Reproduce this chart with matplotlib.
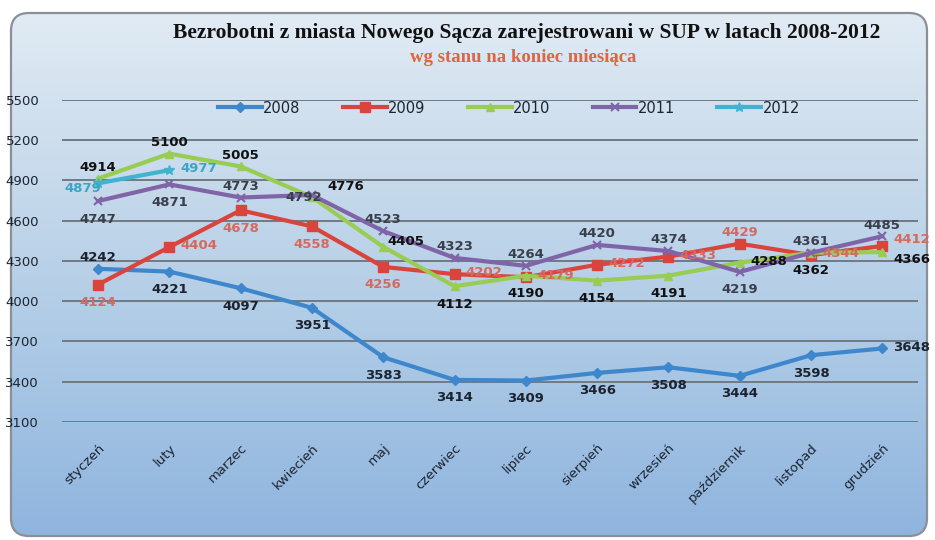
import numpy as np
import matplotlib
matplotlib.use("Agg")
import matplotlib.pyplot as plt
from matplotlib.patches import FancyBboxPatch
from matplotlib.colors import LinearSegmentedColormap

# ---------------- data ----------------
months = ["styczeń", "luty", "marzec", "kwiecień", "maj", "czerwiec", "lipiec",
          "sierpień", "wrzesień", "październik", "listopad", "grudzień"]
y2008 = [4242, 4221, 4097, 3951, 3583, 3414, 3409, 3466, 3508, 3444, 3598, 3648]
y2009 = [4124, 4404, 4678, 4558, 4256, 4202, 4179, 4272, 4333, 4429, 4344, 4412]
y2010 = [4914, 5100, 5005, 4776, 4405, 4112, 4190, 4154, 4191, 4288, 4362, 4366]
y2011 = [4747, 4871, 4773, 4792, 4523, 4323, 4264, 4420, 4374, 4219, 4361, 4485]
y2012 = [4879, 4977]
years = ["2008", "2009", "2010", "2011", "2012"]
yticks = [3100, 3400, 3700, 4000, 4300, 4600, 4900, 5200, 5500]

title = "Bezrobotni z miasta Nowego Sącza zarejestrowani w SUP w latach 2008-2012"
subtitle = "wg stanu na koniec miesiąca"

# ---------------- styles ----------------
series = [y2008, y2009, y2010, y2011, y2012]
line_colors = ["#3f87cc", "#d9443c", "#98cc52", "#8064a8", "#3fb3cf"]
label_colors = ["#1c2330", "#d46a5e", "#111111", "#3a3f4c", "#3aa6c4"]
markers = ["D", "s", "^", "x", "*"]
msizes = [5, 6.5, 6, 6, 7]
# label placement per point
place = [
    "abbbbbbbbbbr",
    "brbbbrrrrarR",
    "aaaqpbbbbrbS",
    "bbacaaaaabaa",
    "lr",
]
offs = {"a": (0, 8, "center"), "b": (0, -13, "center"),
        "r": (8, 1, "left"), "l": (2, -4, "right"), "c": (-6, -2, "center"),
        "q": (11, 8, "left"), "p": (3, 4, "left"),
        "R": (8, 5, "left"), "S": (8, -5, "left")}

W, H = 935, 540
fig = plt.figure(figsize=(W / 100, H / 100), dpi=100)
fig.patch.set_facecolor("white")

# background panel with gradient and rounded frame
bg = fig.add_axes([0, 0, 1, 1])
bg.set_xlim(0, W)
bg.set_ylim(H, 0)
bg.axis("off")
cmap = LinearSegmentedColormap.from_list("bg", ["#e1ebf4", "#c6d9eb", "#aac8e5", "#8fb4de"])
grad = np.linspace(0, 1, 256).reshape(-1, 1)
im = bg.imshow(grad, extent=[10, 928, 537, 12], aspect="auto", cmap=cmap, zorder=0)
frame = FancyBboxPatch((11, 13), 916, 523, boxstyle="round,pad=0,rounding_size=18",
                       facecolor="none", edgecolor="#8a9097", linewidth=1.6, zorder=2)
bg.add_patch(frame)
im.set_clip_path(frame)

bg.text(527, 33, title, ha="center", va="center", fontsize=15.5, fontweight="bold",
        family="Liberation Serif", color="#111111")
bg.text(523, 58, subtitle, ha="center", va="center", fontsize=13.5, fontweight="bold",
        family="Liberation Serif", color="#e0643c")

# ---------------- chart ----------------
ax = fig.add_axes([62.4 / W, 1 - 422 / H, 855.6 / W, 322 / H])
ax.patch.set_alpha(0)
for s in ax.spines.values():
    s.set_visible(False)

x_all = np.arange(len(months))
handles = []
for i, ys in enumerate(series):
    xs = x_all[:len(ys)]
    h, = ax.plot(xs, ys, color=line_colors[i], linewidth=3, marker=markers[i],
                 markersize=msizes[i], markeredgewidth=1.5 if markers[i] == "x" else 1,
                 markeredgecolor=line_colors[i], label=years[i], zorder=3 + i * 0.1)
    handles.append(h)
    for j, (xv, yv) in enumerate(zip(xs, ys)):
        dx, dy, ha = offs[place[i][j]]
        ax.annotate(str(yv), (xv, yv), xytext=(dx, dy), textcoords="offset points",
                    ha=ha, va="center", fontsize=9.5, fontweight="bold",
                    color=label_colors[i], zorder=6)

ax.set_xlim(-0.5, 11.5)
ax.set_ylim(3100, 5500)
ax.set_yticks(yticks)
ax.set_yticklabels([str(v) for v in yticks])
ax.grid(axis="y", color="#707a84", linewidth=1.4)
ax.set_axisbelow(True)
ax.tick_params(axis="y", length=0, pad=41, labelsize=9.5, labelcolor="#1c2330")
for lab in ax.get_yticklabels():
    lab.set_ha("left")
ax.set_xticks(x_all)
ax.set_xticklabels(months, rotation=45, ha="right", rotation_mode="anchor",
                   fontsize=9.5, color="#1c2330")
ax.tick_params(axis="x", length=0, pad=14)

leg = ax.legend(handles=handles, loc="center", bbox_to_anchor=(0.522, 0.975), ncol=5,
                frameon=False, fontsize=10.5, handlelength=3.0, columnspacing=2.9,
                handletextpad=0.1)
for t in leg.get_texts():
    t.set_color("#1c2330")

fig.savefig("out.png", dpi=100)
